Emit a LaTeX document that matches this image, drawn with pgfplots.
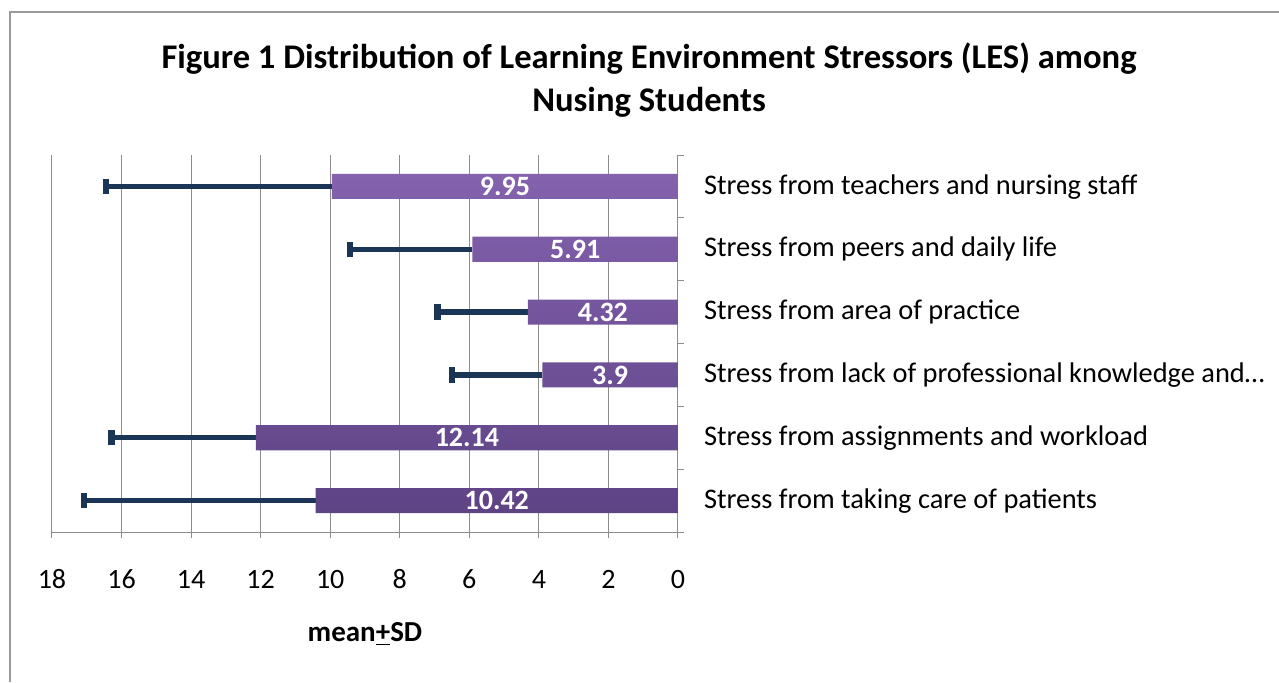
\documentclass[border=0pt]{standalone}
\usepackage{pgfplots}
\pgfplotsset{compat=1.18}
\usepackage{pgfplotstable}
\usepackage{fontspec}
\setmainfont{Carlito}

\definecolor{barTop}{HTML}{8462AE}
\definecolor{barBot}{HTML}{5E4385}
\definecolor{errc}{HTML}{1B3556}
\definecolor{gridc}{HTML}{8C8C8C}
\definecolor{framec}{HTML}{9A9A9A}

\pgfplotstableread{
y mean sd
5 9.95 6.50
4 5.91 3.52
3 4.32 2.60
2 3.9 2.60
1 12.14 4.15
0 10.42 6.66
}\data

\begin{document}
\begin{tikzpicture}
\useasboundingbox (0,0) rectangle (639.5pt,341pt);
\draw[framec, line width=1pt] (5pt,0pt) -- (5pt,335pt) -- (639.5pt,335pt);
\node[font=\bfseries\fontsize{17.3}{21.5}\selectfont, align=center] at (324.5pt,301pt)
  {Figure 1 Distribution of Learning Environment Stressors (LES) among\\Nusing Students};
\begin{axis}[
  at={(26pt,75pt)}, anchor=south west,
  width=313pt, height=188.5pt, scale only axis,
  xmin=0, xmax=18, x dir=reverse,
  ymin=-0.5, ymax=5.5,
  axis x line*=bottom, axis y line*=right,
  axis line style={gridc, line width=0.5pt},
  xmajorgrids, grid style={gridc, line width=0.5pt},
  xtick={0,2,...,18},
  ytick={0,...,5},
  yticklabels={Stress from taking care of patients,
               Stress from assignments and workload,
               Stress from lack of professional knowledge and…,
               Stress from area of practice,
               Stress from peers and daily life,
               Stress from teachers and nursing staff},
  minor ytick={-0.5,0.5,...,5.5},
  major y tick style={draw=none},
  minor tick length=3pt, major tick length=3pt,
  tick align=outside,
  tick style={gridc, line width=0.5pt},
  /pgf/number format/assume math mode=true,
  typeset ticklabels with strut,
  x tick label style={font=\fontsize{14}{14}\selectfont, yshift=-12pt},
  y tick label style={font=\fontsize{14.2}{14.2}\selectfont, anchor=west, xshift=6.5pt, yshift=-1pt},
  xlabel={\textbf{mean\underline{+}SD}},
  every axis x label/.style={at={(axis description cs:0.5,0)}, anchor=center, yshift=-51pt, font=\fontsize{14.5}{14.5}\selectfont},
  clip=false,
]
\addplot[forget plot, draw=none, mark=none,
  error bars/.cd, x dir=plus, x explicit, error mark=|,
  error bar style={draw=errc, line width=2.6pt},
  error mark options={draw=errc, line width=3.2pt, mark size=3.8pt}]
  table[x=mean, y=y, x error=sd]{\data};
\addplot[xbar, bar width=0.4, draw=none, top color=barTop, bottom color=barBot]
  table[x=mean, y=y]{\data};
\addplot[draw=none, mark=none, nodes near coords, point meta=explicit symbolic,
  nodes near coords style={white, font=\bfseries\fontsize{14}{14}\selectfont, anchor=center}]
  table[x expr=\thisrow{mean}/2, y=y, meta=mean]{\data};
\end{axis}
\end{tikzpicture}
\end{document}
